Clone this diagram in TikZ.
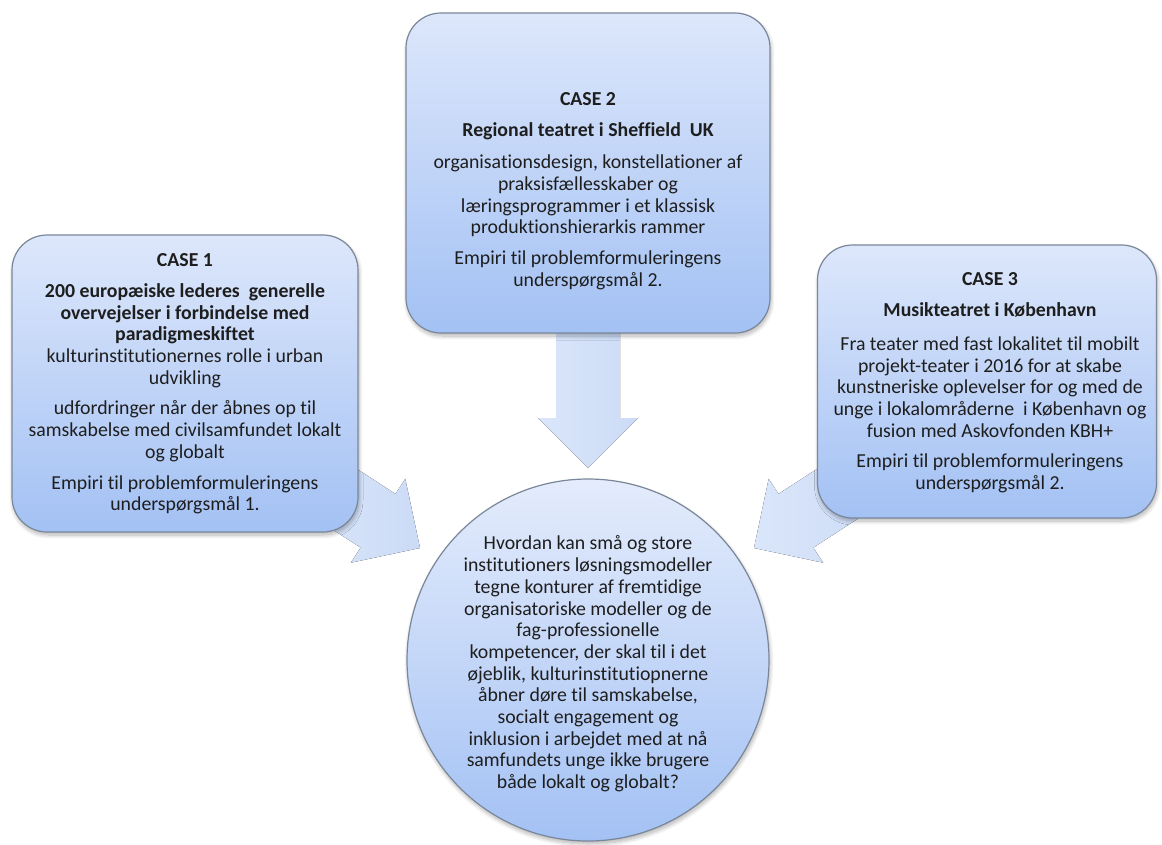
\documentclass[tikz,border=0pt]{standalone}
\usepackage{fontspec}
\setmainfont{Carlito}[Ligatures=NoCommon, Contextuals=NoAlternate, RawFeature={-liga;-dlig}]
\usetikzlibrary{shadows,shadows.blur}

\definecolor{boxtop}{HTML}{DDE7FB}
\definecolor{boxbottom}{HTML}{A3C1F4}
\definecolor{edgegray}{HTML}{7A8799}
\definecolor{arrowtail}{HTML}{DAE6FA}
\definecolor{arrowtip}{HTML}{CCDBF6}
\definecolor{ink}{HTML}{1E1E1E}

\tikzset{
  casebox/.style={rectangle, rounded corners=35pt, draw=edgegray, line width=1.2pt,
    top color=boxtop, bottom color=boxbottom, inner sep=0pt, outer sep=0pt,
    blur shadow={shadow xshift=1pt, shadow yshift=-3pt, shadow blur radius=4pt,
      shadow blur steps=8, shadow opacity=30}},
  goalcircle/.style={circle, draw=edgegray, line width=1.2pt,
    top color=boxtop!80!white, bottom color=boxbottom, inner sep=0pt, outer sep=0pt,
    blur shadow={shadow xshift=1pt, shadow yshift=-3pt, shadow blur radius=4pt,
      shadow blur steps=8, shadow opacity=30}},
  casetext/.style={align=center, text=ink, inner sep=0pt,
    font={\fontsize{19.8}{21.7}\selectfont}},
  % block arrow pointing along +x with its tip at the origin; #1 = total length
  pics/blockarrow/.style={code={
    \fill[left color=arrowtail, right color=arrowtip]
      (0,0) -- (-50,-50) -- (-50,-32) -- (-#1,-32) -- (-#1,32) -- (-50,32) -- (-50,50) -- cycle;
  }}
}

\begin{document}
\begin{tikzpicture}[x=1pt,y=-1pt]
\useasboundingbox (0,0) rectangle (1162,845);

% arrows towards the central question (tails hidden behind the boxes)
\pic[rotate=-90] (arrowdown) at (588,468) {blockarrow=150};
\pic[rotate=-33] (arrowleft) at (420,548) {blockarrow=140};
\pic[rotate=-147] (arrowright) at (754,548) {blockarrow=140};

% case boxes
\node[casebox, minimum width=346pt, minimum height=297pt] (case1) at (185,383.5) {};
\node[casebox, minimum width=364pt, minimum height=320pt] (case2) at (588,173) {};
\node[casebox, minimum width=339pt, minimum height=273pt] (case3) at (987,381.5) {};

% central question
\node[goalcircle, minimum size=362pt] (goal) at (588,660) {};

\node[casetext] (case1text) at (185,384) {%
\textbf{CASE 1}\\[9pt]
\textbf{200 europæiske lederes\ \ generelle}\\
\textbf{overvejelser i forbindelse med}\\
\textbf{paradigmeskiftet}\\
kulturinstitutionernes rolle i urban\\
udvikling\\[9pt]
udfordringer når der åbnes op til\\
samskabelse med civilsamfundet lokalt\\
og globalt\\[9pt]
Empiri til problemformuleringens\\
underspørgsmål 1.};

\node[casetext] (case2text) at (588,191) {%
\textbf{CASE 2}\\[9pt]
\textbf{Regional teatret i Sheffield\ \ UK}\\[11pt]
organisationsdesign, konstellationer af\\
praksisfællesskaber og\\
læringsprogrammer i et klassisk\\
produktionshierarkis rammer\\[9pt]
Empiri til problemformuleringens\\
underspørgsmål 2.};

\node[casetext] (case3text) at (990,383) {%
\textbf{CASE 3}\\[9pt]
\textbf{Musikteatret i København}\\[12pt]
Fra teater med fast lokalitet til mobilt\\
projekt-teater i 2016 for at skabe\\
kunstneriske oplevelser for og med de\\
unge i lokalområderne\ \ i København og\\
fusion med Askovfonden KBH+\\[9pt]
Empiri til problemformuleringens\\
underspørgsmål 2.};

\node[casetext] (goaltext) at (588,664) {%
Hvordan kan små og store\\
institutioners løsningsmodeller\\
tegne konturer af fremtidige\\
organisatoriske modeller og de\\
fag-professionelle\\
kompetencer, der skal til i det\\
øjeblik, kulturinstitutiopnerne\\
åbner døre til samskabelse,\\
socialt engagement og\\
inklusion i arbejdet med at nå\\
samfundets unge ikke brugere\\
både lokalt og globalt?};
\end{tikzpicture}
\end{document}
